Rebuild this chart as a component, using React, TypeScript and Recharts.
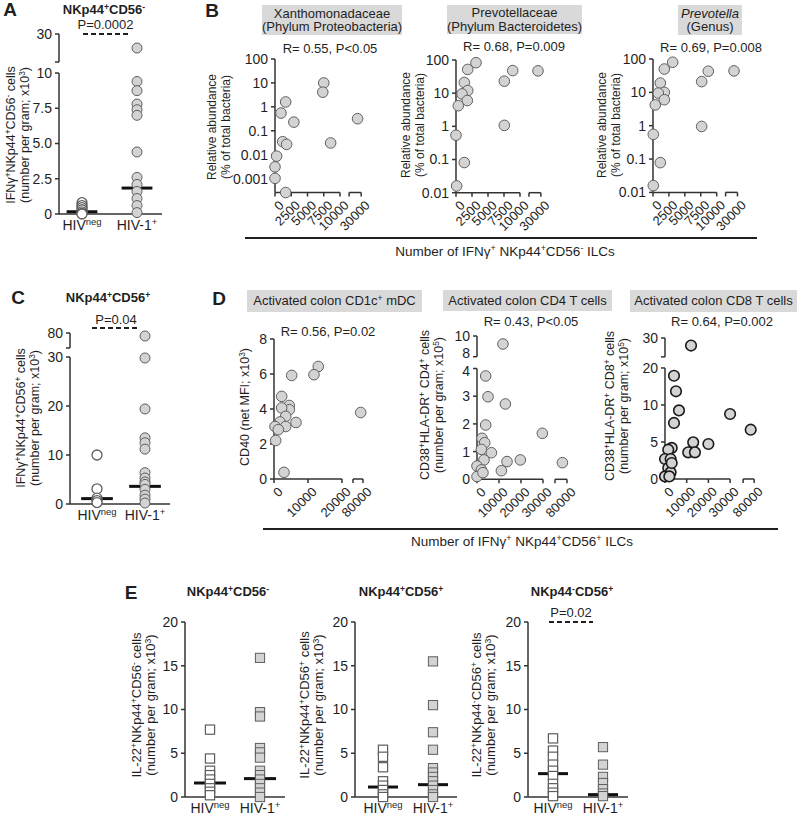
import React from 'react';
import { ScatterChart, Scatter, XAxis, YAxis, ReferenceLine } from 'recharts';

const FONT = '"Liberation Sans", Arial, Helvetica, sans-serif';
const INK = '#1f1f1f';
const AXIS = '#333333';
const FILL = '#d3d3d3';
const EDGE = '#5e5e5e';

/* ---------------- data ---------------- */
const groupBase = ['HIV', 'HIV-1'];
const groupSup = ['neg', '+'];

// Panel A : IFNγ+ NKp44+CD56- cells (x10^3 per gram)
const aNeg = [0.8, 0.6, 0.45, 0.3, 0.15, 0.05, 0];
const aPos = [25, 9.4, 8.75, 7.8, 7.4, 7.0, 4.4, 2.6, 2.1, 1.6, 1.1, 0.6, 0.1];
const aMedian = [0.16, 1.84];
const aYTicks = [0, 2.5, 5, 7.5, 10, 20, 30];
const aYLabels = ['0', '2.5', '5.0', '7.5', '10', '', '30'];

// Panel C : IFNγ+ NKp44+CD56+ cells
const cNeg = [10, 3.1, 1.2, 0.7, 0.3];
const cPos = [78, 29.8, 19.4, 13.5, 12.5, 11.2, 6.4, 5.3, 4.5, 4.0, 3.0, 1.8, 1.0, 0.2];
const cMedian = [1.1, 3.6];
const cYTicks = [0, 10, 20, 30, 70, 80];
const cYLabels = ['0', '10', '20', '30', '', '80'];

// Panel B : relative abundance vs IFNγ+ NKp44+CD56- ILCs
const bXTicks = [0, 2500, 5000, 7500, 10000, 20000, 30000];
const bXLabels = ['0', '2500', '5000', '7500', '10000', '', '30000'];
const b1YTicks = [0.001, 0.01, 0.1, 1, 10, 100];
const b1YLabels = ['0.001', '0.01', '0.1', '1', '10', '100'];
const b23YTicks = [0.01, 0.1, 1, 10, 100];
const b23YLabels = ['0.01', '0.1', '1', '10', '100'];
const b1X = [7500, 7350, 1640, 920, 2900, 27000, 8560, 1180, 1790, 250, 0, 0, 1640];
const b1Y = [10, 4.1, 1.6, 0.55, 0.23, 0.32, 0.031, 0.035, 0.027, 0.0087, 0.0031, 0.00103, 0];
const b2X = [3125, 1830, 8860, 27600, 7550, 1300, 1830, 940, 1770, 360, 7550, 0, 1300, 100];
const b2Y = [83, 52, 48, 47, 23, 21, 12, 9.5, 6, 4.2, 1.07, 0.54, 0.081, 0.016];
const b3X = [3090, 1780, 8680, 27100, 7640, 1150, 1780, 830, 1780, 360, 7640, 50, 1150, 50];
const b3Y = [80, 50, 43, 44, 21, 19, 10, 9.5, 6, 4.2, 0.95, 0.55, 0.078, 0.016];

// Panel D : activation markers vs IFNγ+ NKp44+CD56+ ILCs
const d1XTicks = [0, 10000, 20000, 70000, 80000];
const d1XLabels = ['0', '10000', '20000', '', '80000'];
const d23XTicks = [0, 10000, 20000, 30000, 70000, 80000];
const d23XLabels = ['0', '10000', '20000', '30000', '', '80000'];
const d1YTicks = [0, 2, 4, 6, 8];
const d1YLabels = ['0', '2', '4', '6', '8'];
const d2YTicks = [0, 1, 2, 3, 4, 8, 10];
const d2YLabels = ['0', '1', '2', '3', '4', '8', '10'];
const d3YTicks = [0, 5, 10, 20, 25, 30];
const d3YLabels = ['0', '5', '10', '20', '', '30'];
const d1X = [13030, 11760, 5200, 77700, 2260, 4500, 4500, 2260, 3440, 6470, 1760, 290, 3440, 1270, 500, 2940];
const d1Y = [6.43, 5.96, 5.92, 3.8, 4.72, 4.2, 3.96, 4.06, 3.58, 3.23, 3.26, 3.0, 3.0, 2.82, 2.2, 0.38];
const d2X = [11800, 3950, 5000, 12900, 3950, 29700, 2270, 3500, 2000, 6540, 3180, 13640, 19700, 76200, 0, 2000, 11090, 0, 2700];
const d2Y = [9.23, 3.73, 2.98, 2.72, 1.96, 1.66, 1.48, 1.32, 1.08, 0.96, 0.7, 0.64, 0.7, 0.6, 0.48, 0.34, 0.31, 0.1, 0.24];
const d3X = [12000, 4150, 5070, 6450, 4150, 30000, 76900, 13000, 20000, 10700, 13800, 3100, 1500, 0, 2600, 1500, 2600, 0, 2000, 3100];
const d3Y = [28, 17.9, 13.7, 9.27, 7.57, 8.78, 6.66, 4.95, 4.73, 3.6, 3.6, 4.2, 3.96, 2.7, 2.7, 1.49, 0.9, 0.35, 0.35, 2.16];

// Panel E : IL-22+ cells
const eYTicks = [0, 5, 10, 15, 20];
const eYLabels = ['0', '5', '10', '15', '20'];
const e1Neg = [7.7, 4.4, 3.0, 2.5, 2.0, 1.5, 1.0, 0.6, 0.2];
const e1Pos = [15.9, 9.7, 9.2, 5.6, 5.1, 4.5, 3.0, 2.5, 2.0, 1.5, 1.0, 0.5, 0];
const e1Median = [1.6, 2.1];
const e2Neg = [5.4, 4.6, 3.4, 1.8, 1.3, 0.8, 0.3, 0];
const e2Pos = [15.5, 10.5, 7.4, 5.4, 3.3, 2.8, 2.3, 1.8, 1.3, 0.8, 0.3, 0];
const e2Median = [1.14, 1.41];
const e3Neg = [6.7, 5.3, 4.6, 3.7, 3.0, 2.4, 1.5, 1.0, 0.5, 0.1];
const e3Pos = [5.7, 3.7, 2.3, 1.6, 0.9, 0.4, 0.1];
const e3Median = [2.67, 0.27];

/* ---------------- helpers ---------------- */
type Knots = [number, number][];
const pw = (k: Knots) => (v: number) => {
  if (v <= k[0][0]) return k[0][1] + (v - k[0][0]) * (k[1][1] - k[0][1]) / (k[1][0] - k[0][0]);
  for (let i = 1; i < k.length; i++) {
    if (v <= k[i][0]) {
      const [a, da] = k[i - 1];
      const [b, db] = k[i];
      return da + ((v - a) * (db - da)) / (b - a);
    }
  }
  const [a, da] = k[k.length - 2];
  const [b, db] = k[k.length - 1];
  return db + ((v - b) * (db - da)) / (b - a);
};
const ident = (v: number) => v;
const logT = (floor: number) => (v: number) => (v > 0 ? Math.log10(v) : floor);

const findTick = (ticks: number[], v: number) => ticks.findIndex((t) => Math.abs(t - v) < 1e-6);

type Pt = { x: number; y: number };
type Ser = { pts: Pt[]; shape: 'circle' | 'square'; fill: string; stroke: string; sw: number; size: number };
type Med = { x0: number; x1: number; y: number };

const catPts = (vals: number[], idx: number): Pt[] => vals.map((v) => ({ x: idx, y: v }));
const xyPts = (xs: number[], ys: number[]): Pt[] => xs.map((x, i) => ({ x, y: ys[i] }));
const medBars = (m: number[], hw: number): Med[] => m.map((y, i) => ({ x0: i - hw, x1: i + hw, y }));
const catDomain = (L: number, R: number, c0: number, c1: number): [number, number] => {
  const u = c1 - c0;
  return [(L - c0) / u, 1 + (R - c1) / u];
};

const markShape = (s: Ser) => (p: any) => {
  const { cx, cy } = p;
  if (cx == null || cy == null) return <g />;
  if (s.shape === 'circle')
    return <circle cx={cx} cy={cy} r={s.size} fill={s.fill} stroke={s.stroke} strokeWidth={s.sw} />;
  return (
    <rect x={cx - s.size} y={cy - s.size} width={2 * s.size} height={2 * s.size} fill={s.fill} stroke={s.stroke} strokeWidth={s.sw} />
  );
};

function CatTick(props: any) {
  const { x, y, payload } = props;
  const i = Math.round(payload.value);
  if (i < 0 || i > 1) return <g />;
  return (
    <text x={x} y={y} dy={9.5} textAnchor="middle" fontSize={14} fill={INK}>
      {groupBase[i]}
      <tspan dy={-5} fontSize={9.5}>
        {groupSup[i]}
      </tspan>
    </text>
  );
}

const rotTick = (ticks: number[], labels: string[]) => (props: any) => {
  const { x, y, payload } = props;
  const i = findTick(ticks, payload.value);
  const ax = x + 3;
  const ay = y + 1;
  return (
    <text x={ax} y={ay} dy="0.71em" textAnchor="end" fontSize={13} fill={INK} transform={`rotate(-45 ${ax} ${ay})`}>
      {i >= 0 ? labels[i] : ''}
    </text>
  );
};

const yTick = (ticks: number[], labels: string[], nudge: number[]) => (props: any) => {
  const { x, y, payload } = props;
  const i = findTick(ticks, payload.value);
  return (
    <text x={x} y={y + (i >= 0 ? nudge[i] || 0 : 0)} dy="0.355em" textAnchor="end" fontSize={14} fill={INK}>
      {i >= 0 ? labels[i] : ''}
    </text>
  );
};

type PlotProps = {
  box: [number, number, number, number];
  fx: (v: number) => number;
  fy: (v: number) => number;
  xDom: [number, number];
  yDom: [number, number];
  xTicks: number[];
  xLabels: string[];
  yTicks: number[];
  yLabels: string[];
  yNudge?: number[];
  xSegs?: [number, number][];
  ySegs?: [number, number][];
  cat?: boolean;
  series: Ser[];
  medians?: Med[];
};

function Plot(p: PlotProps) {
  const [L, T, R, B] = p.box;
  const pl = 58, pt = 12, pr = 16, pb = 62;
  const W = pl + (R - L) + pr;
  const H = pt + (B - T) + pb;
  const xd: [number, number] = [p.fx(p.xDom[0]), p.fx(p.xDom[1])];
  const yd: [number, number] = [p.fy(p.yDom[0]), p.fy(p.yDom[1])];
  const xt = p.xTicks.map(p.fx);
  const yt = p.yTicks.map(p.fy);
  const ax = { stroke: AXIS, strokeWidth: 1.5 };
  return (
    <div style={{ position: 'absolute', left: L - pl, top: T - pt, width: W, height: H }}>
      <ScatterChart width={W} height={H} margin={{ top: pt, right: pr, bottom: 0, left: 0 }}>
        <XAxis
          type="number"
          dataKey="x"
          domain={xd}
          ticks={xt}
          interval={0}
          height={pb}
          axisLine={p.xSegs ? false : ax}
          tickLine={p.cat ? false : ax}
          tickSize={4}
          tick={p.cat ? CatTick : rotTick(xt, p.xLabels)}
        />
        <YAxis
          type="number"
          dataKey="y"
          domain={yd}
          ticks={yt}
          interval={0}
          width={pl}
          axisLine={p.ySegs ? false : ax}
          tickLine={ax}
          tickSize={4}
          tickMargin={3}
          tick={yTick(yt, p.yLabels, p.yNudge || [])}
        />
        {p.series.map((s, i) => (
          <Scatter
            key={'s' + i}
            data={s.pts.map((q) => ({ x: p.fx(q.x), y: p.fy(q.y) }))}
            isAnimationActive={false}
            shape={markShape(s)}
          />
        ))}
        {(p.xSegs || []).map((sg, i) => (
          <ReferenceLine
            key={'xs' + i}
            segment={[{ x: p.fx(sg[0]), y: yd[0] }, { x: p.fx(sg[1]), y: yd[0] }]}
            stroke={AXIS}
            strokeWidth={1.5}
            ifOverflow="visible"
          />
        ))}
        {(p.ySegs || []).map((sg, i) => (
          <ReferenceLine
            key={'ys' + i}
            segment={[{ x: xd[0], y: p.fy(sg[0]) }, { x: xd[0], y: p.fy(sg[1]) }]}
            stroke={AXIS}
            strokeWidth={1.5}
            ifOverflow="visible"
          />
        ))}
        {(p.medians || []).map((m, i) => (
          <ReferenceLine
            key={'m' + i}
            segment={[{ x: m.x0, y: p.fy(m.y) }, { x: m.x1, y: p.fy(m.y) }]}
            stroke="#111"
            strokeWidth={3}
            ifOverflow="visible"
          />
        ))}
      </ScatterChart>
    </div>
  );
}

/* ---------------- text helpers ---------------- */
const S = ({ c }: { c: string }) => (
  <sup style={{ fontSize: '0.66em', verticalAlign: '0.5em', lineHeight: 0 }}>{c}</sup>
);

const Txt = ({ x, y, size = 13, bold = false, italic = false, children }: any) => (
  <div
    style={{
      position: 'absolute',
      left: x,
      top: y,
      transform: 'translate(-50%, -50%)',
      fontSize: size,
      fontWeight: bold ? 700 : 400,
      fontStyle: italic ? 'italic' : 'normal',
      whiteSpace: 'nowrap',
      lineHeight: 1.1,
    }}
  >
    {children}
  </div>
);

const VLabel = ({ x, y, size = 12.5, lh = 14, lines }: any) => (
  <div
    style={{
      position: 'absolute',
      left: x,
      top: y,
      transform: 'translate(-50%, -50%) rotate(-90deg)',
      fontSize: size,
      lineHeight: lh + 'px',
      textAlign: 'center',
      whiteSpace: 'nowrap',
    }}
  >
    {lines.map((l: any, i: number) => (
      <div key={i}>{l}</div>
    ))}
  </div>
);

const Box = ({ l, t, w, h, children }: any) => (
  <div
    style={{
      position: 'absolute',
      left: l,
      top: t,
      width: w,
      height: h,
      background: '#d9d9d9',
      display: 'flex',
      flexDirection: 'column',
      alignItems: 'center',
      justifyContent: 'center',
      fontSize: 13,
      lineHeight: '13.5px',
      whiteSpace: 'nowrap',
    }}
  >
    {children}
  </div>
);

/* ---------------- series styles ---------------- */
const openC = (pts: Pt[]): Ser => ({ pts, shape: 'circle', fill: '#fff', stroke: EDGE, sw: 1.3, size: 5 });
const grayC = (pts: Pt[]): Ser => ({ pts, shape: 'circle', fill: FILL, stroke: EDGE, sw: 1, size: 5 });
const grayB = (pts: Pt[]): Ser => ({ pts, shape: 'circle', fill: FILL, stroke: EDGE, sw: 1, size: 5.3 });
const darkB = (pts: Pt[]): Ser => ({ pts, shape: 'circle', fill: FILL, stroke: '#1a1a1a', sw: 1.6, size: 5.3 });
const openS = (pts: Pt[]): Ser => ({ pts, shape: 'square', fill: '#fff', stroke: EDGE, sw: 1.2, size: 4.6 });
const grayS = (pts: Pt[]): Ser => ({ pts, shape: 'square', fill: FILL, stroke: EDGE, sw: 1, size: 4.6 });

/* ---------------- axis transforms ---------------- */
const aFy = pw([[0, 0], [10, 10], [20, 10.78], [30, 12.77]]);
const cFy = pw([[0, 0], [30, 30], [70, 31.84], [80, 34.9]]);
const bFx = pw([[0, 0], [10000, 10000], [20000, 11400], [30000, 13260]]);
const d1Fx = pw([[0, 0], [20000, 20000], [70000, 23235], [80000, 26175]]);
const d2Fx = pw([[0, 0], [30000, 30000], [70000, 35450], [80000, 40900]]);
const d3Fx = pw([[0, 0], [30000, 30000], [70000, 36000], [80000, 41070]]);
const d2Fy = pw([[0, 0], [4, 4], [8, 4.426], [10, 5.173]]);
const d3Fy = pw([[0, 0], [10, 10], [20, 15], [25, 16.5], [30, 19.05]]);

export default function App() {
  const aBox: [number, number, number, number] = [59, 34, 162, 214];
  const cBox: [number, number, number, number] = [70, 333, 170, 504];
  const e1Box: [number, number, number, number] = [185, 621.7, 285, 796.7];
  const e2Box: [number, number, number, number] = [355, 621.7, 457, 796.7];
  const e3Box: [number, number, number, number] = [528, 621.7, 628, 796.7];
  const b1Box: [number, number, number, number] = [275, 58.5, 275 + 13260 * 0.0065, 192];
  const b2Box: [number, number, number, number] = [456, 60, 456 + 13260 * 0.0064, 192.7];
  const b3Box: [number, number, number, number] = [653, 59.3, 653 + 13260 * 0.00637, 192.7];
  const d1Box: [number, number, number, number] = [274, 339.3, 274 + 26175 * 0.0034, 479.3];
  const d2Box: [number, number, number, number] = [477.3, 336, 477.3 + 40900 * 0.0022, 479.3];
  const d3Box: [number, number, number, number] = [665, 338.3, 665 + 41070 * 0.00217, 479.3];

  const bY1 = logT(-3.58);
  const bY2 = logT(-2);

  return (
    <div
      style={{
        position: 'absolute',
        left: 0,
        top: 0,
        width: 800,
        height: 815,
        background: '#fff',
        fontFamily: FONT,
        color: INK,
        overflow: 'hidden',
      }}
    >
      {/* Panel A */}
      <Plot
        box={aBox}
        fx={ident}
        fy={aFy}
        xDom={catDomain(59, 162, 82, 137)}
        yDom={[0, 30]}
        xTicks={[0, 1]}
        xLabels={['', '']}
        yTicks={aYTicks}
        yLabels={aYLabels}
        ySegs={[[0, 10], [20, 30]]}
        cat
        series={[openC(catPts(aNeg, 0)), grayC(catPts(aPos, 1))]}
        medians={medBars(aMedian, 0.28)}
      />
      {/* Panel C */}
      <Plot
        box={cBox}
        fx={ident}
        fy={cFy}
        xDom={catDomain(70, 170, 97, 145)}
        yDom={[0, 80]}
        xTicks={[0, 1]}
        xLabels={['', '']}
        yTicks={cYTicks}
        yLabels={cYLabels}
        ySegs={[[0, 30], [70, 80]]}
        cat
        series={[openC(catPts(cNeg, 0)), grayC(catPts(cPos, 1))]}
        medians={medBars(cMedian, 0.33)}
      />
      {/* Panel B */}
      <Plot
        box={b1Box}
        fx={bFx}
        fy={bY1}
        xDom={[0, 30000]}
        yDom={[0, 100]}
        xTicks={bXTicks}
        xLabels={bXLabels}
        yTicks={b1YTicks}
        yLabels={b1YLabels}
        xSegs={[[0, 10000], [20000, 30000]]}
        series={[grayB(xyPts(b1X, b1Y))]}
      />
      <Plot
        box={b2Box}
        fx={bFx}
        fy={bY2}
        xDom={[0, 30000]}
        yDom={[0.01, 100]}
        xTicks={bXTicks}
        xLabels={bXLabels}
        yTicks={b23YTicks}
        yLabels={b23YLabels}
        xSegs={[[0, 10000], [20000, 30000]]}
        series={[grayB(xyPts(b2X, b2Y))]}
      />
      <Plot
        box={b3Box}
        fx={bFx}
        fy={bY2}
        xDom={[0, 30000]}
        yDom={[0.01, 100]}
        xTicks={bXTicks}
        xLabels={bXLabels}
        yTicks={b23YTicks}
        yLabels={b23YLabels}
        xSegs={[[0, 10000], [20000, 30000]]}
        series={[grayB(xyPts(b3X, b3Y))]}
      />
      {/* Panel D */}
      <Plot
        box={d1Box}
        fx={d1Fx}
        fy={ident}
        xDom={[0, 80000]}
        yDom={[0, 8]}
        xTicks={d1XTicks}
        xLabels={d1XLabels}
        yTicks={d1YTicks}
        yLabels={d1YLabels}
        xSegs={[[0, 20000], [70000, 80000]]}
        series={[grayB(xyPts(d1X, d1Y))]}
      />
      <Plot
        box={d2Box}
        fx={d2Fx}
        fy={d2Fy}
        xDom={[0, 80000]}
        yDom={[0, 10]}
        xTicks={d23XTicks}
        xLabels={d23XLabels}
        yTicks={d2YTicks}
        yLabels={d2YLabels}
        yNudge={[0, 0, 0, 0, 2.5, -3.5, 0]}
        xSegs={[[0, 30000], [70000, 80000]]}
        ySegs={[[0, 4], [8, 10]]}
        series={[grayB(xyPts(d2X, d2Y))]}
      />
      <Plot
        box={d3Box}
        fx={d3Fx}
        fy={d3Fy}
        xDom={[0, 80000]}
        yDom={[0, 30]}
        xTicks={d23XTicks}
        xLabels={d23XLabels}
        yTicks={d3YTicks}
        yLabels={d3YLabels}
        xSegs={[[0, 30000], [70000, 80000]]}
        ySegs={[[0, 20], [25, 30]]}
        series={[darkB(xyPts(d3X, d3Y))]}
      />
      {/* Panel E */}
      <Plot
        box={e1Box}
        fx={ident}
        fy={ident}
        xDom={catDomain(185, 285, 210, 260)}
        yDom={[0, 20]}
        xTicks={[0, 1]}
        xLabels={['', '']}
        yTicks={eYTicks}
        yLabels={eYLabels}
        cat
        series={[openS(catPts(e1Neg, 0)), grayS(catPts(e1Pos, 1))]}
        medians={medBars(e1Median, 0.32)}
      />
      <Plot
        box={e2Box}
        fx={ident}
        fy={ident}
        xDom={catDomain(355, 457, 383, 433)}
        yDom={[0, 20]}
        xTicks={[0, 1]}
        xLabels={['', '']}
        yTicks={eYTicks}
        yLabels={eYLabels}
        cat
        series={[openS(catPts(e2Neg, 0)), grayS(catPts(e2Pos, 1))]}
        medians={medBars(e2Median, 0.3)}
      />
      <Plot
        box={e3Box}
        fx={ident}
        fy={ident}
        xDom={catDomain(528, 628, 553, 603)}
        yDom={[0, 20]}
        xTicks={[0, 1]}
        xLabels={['', '']}
        yTicks={eYTicks}
        yLabels={eYLabels}
        cat
        series={[openS(catPts(e3Neg, 0)), grayS(catPts(e3Pos, 1))]}
        medians={medBars(e3Median, 0.3)}
      />

      {/* rules and dashed significance lines */}
      <svg width={800} height={815} style={{ position: 'absolute', left: 0, top: 0, pointerEvents: 'none' }}>
        <line x1={83} x2={128} y1={34} y2={34} stroke={INK} strokeWidth={2} strokeDasharray="5 3" />
        <line x1={92} x2={140} y1={328} y2={328} stroke={INK} strokeWidth={2} strokeDasharray="5 3" />
        <line x1={549} x2={593} y1={622} y2={622} stroke={INK} strokeWidth={2} strokeDasharray="5 3" />
        <line x1={245} x2={757} y1={238} y2={238} stroke={INK} strokeWidth={2} />
        <line x1={263} x2={778} y1={529} y2={529} stroke={INK} strokeWidth={2} />
      </svg>

      {/* panel letters */}
      <Txt x={10} y={10} size={19} bold>A</Txt>
      <Txt x={212} y={11} size={19} bold>B</Txt>
      <Txt x={18} y={298} size={19} bold>C</Txt>
      <Txt x={219} y={299} size={19} bold>D</Txt>
      <Txt x={131} y={593} size={19} bold>E</Txt>

      {/* titles */}
      <Txt x={104} y={10} bold>NKp44<S c="+" />CD56<S c="-" /></Txt>
      <Txt x={108} y={298} bold>NKp44<S c="+" />CD56<S c="+" /></Txt>
      <Txt x={228} y={592} bold>NKp44<S c="+" />CD56<S c="-" /></Txt>
      <Txt x={401} y={592} bold>NKp44<S c="+" />CD56<S c="+" /></Txt>
      <Txt x={572} y={592} bold>NKp44<S c="-" />CD56<S c="+" /></Txt>

      {/* p-values */}
      <Txt x={105.5} y={25} size={13}>P=0.0002</Txt>
      <Txt x={116} y={320} size={13}>P=0.04</Txt>
      <Txt x={571} y={613} size={13}>P=0.02</Txt>

      {/* grey header boxes */}
      <Box l={262} t={5} w={140} h={30}>
        <div>Xanthomonadaceae</div>
        <div>(Phylum Proteobacteria)</div>
      </Box>
      <Box l={447} t={5} w={135} h={29}>
        <div>Prevotellaceae</div>
        <div>(Phylum Bacteroidetes)</div>
      </Box>
      <Box l={678} t={5} w={64} h={30}>
        <div style={{ fontStyle: 'italic' }}>Prevotella</div>
        <div>(Genus)</div>
      </Box>
      <Box l={247} t={290} w={175} h={22}>
        <div>Activated colon CD1c<S c="+" /> mDC</div>
      </Box>
      <Box l={443} t={290} w={169} h={21}>
        <div>Activated colon CD4 T cells</div>
      </Box>
      <Box l={630} t={290} w={167} h={22}>
        <div>Activated colon CD8 T cells</div>
      </Box>

      {/* correlation stats */}
      <Txt x={330} y={49}>R= 0.55, P&lt;0.05</Txt>
      <Txt x={514} y={47}>R= 0.68, P=0.009</Txt>
      <Txt x={711} y={48}>R= 0.69, P=0.008</Txt>
      <Txt x={328} y={332}>R= 0.56, P=0.02</Txt>
      <Txt x={531} y={322}>R= 0.43, P&lt;0.05</Txt>
      <Txt x={722} y={322}>R= 0.64, P=0.002</Txt>

      {/* shared x titles */}
      <Txt x={505} y={252} size={13.5}>Number of IFNγ<S c="+" /> NKp44<S c="+" />CD56<S c="-" /> ILCs</Txt>
      <Txt x={522} y={542} size={13.5}>Number of IFNγ<S c="+" /> NKp44<S c="+" />CD56<S c="+" /> ILCs</Txt>

      {/* y-axis titles */}
      <VLabel x={18} y={135} lines={[<>IFNγ<S c="+" />NKp44<S c="+" />CD56<S c="-" /> cells</>, <>(number per gram; x10<S c="3" />)</>]} />
      <VLabel x={219} y={127} size={12} lines={['Relative abundance', '(% of total bacteria)']} />
      <VLabel x={413} y={125} size={12} lines={['Relative abundance', '(% of total bacteria)']} />
      <VLabel x={609} y={125} size={12} lines={['Relative abundance', '(% of total bacteria)']} />
      <VLabel x={28} y={418} lines={[<>IFNγ<S c="+" />NKp44<S c="+" />CD56<S c="+" /> cells</>, <>(number per gram; x10<S c="3" />)</>]} />
      <VLabel x={245} y={407} lines={[<>CD40 (net MFI; x10<S c="3" />)</>]} />
      <VLabel x={432} y={405} lines={[<>CD38<S c="+" />HLA-DR<S c="+" /> CD4<S c="+" /> cells</>, <>(number per gram; x10<S c="5" />)</>]} />
      <VLabel x={617} y={406} lines={[<>CD38<S c="+" />HLA-DR<S c="+" /> CD8<S c="+" /> cells</>, <>(number per gram; x10<S c="5" />)</>]} />
      <VLabel x={144} y={705} size={13} lines={[<>IL-22<S c="+" />NKp44<S c="+" />CD56<S c="-" /> cells</>, <>(number per gram; x10<S c="3" />)</>]} />
      <VLabel x={312} y={705} size={13} lines={[<>IL-22<S c="+" />NKp44<S c="+" />CD56<S c="+" /> cells</>, <>(number per gram; x10<S c="3" />)</>]} />
      <VLabel x={484} y={705} size={13} lines={[<>IL-22<S c="+" />NKp44<S c="-" />CD56<S c="+" /> cells</>, <>(number per gram; x10<S c="3" />)</>]} />
    </div>
  );
}
